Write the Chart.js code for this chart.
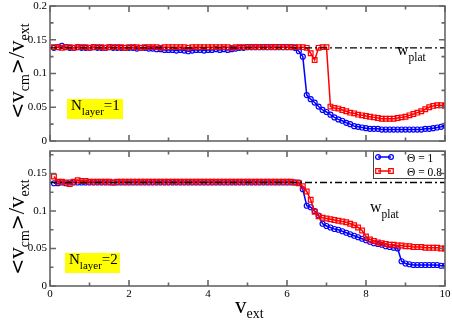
<!DOCTYPE html>
<html>
<head>
<meta charset="utf-8">
<script src="https://cdn.jsdelivr.net/npm/chart.js@4.4.0/dist/chart.umd.min.js"></script>
<style>
  html, body { margin:0; padding:0; background:#fff; }
  #wrap { position:relative; width:452px; height:320px; overflow:hidden;
          font-family:"Liberation Serif", "Times New Roman", serif; color:#000; }
  canvas { position:absolute; left:0; }
  #topChart { top:0; }
  #botChart { top:148px; }
  .lbl { position:absolute; white-space:nowrap; line-height:1; }
  .sub { position:relative; }
  .sym { font-family:"DejaVu Sans", sans-serif; font-size:19px; }
  .ytitle { position:absolute; white-space:nowrap; line-height:1; font-size:23px;
            transform:translate(-50%,-50%) rotate(-90deg); }
  .ybox { position:absolute; background:#ffff00; }
</style>
</head>
<body>
<div id="wrap">
  <canvas id="topChart" width="452" height="148"></canvas>
  <canvas id="botChart" width="452" height="172"></canvas>

  <!-- axis titles -->
  <div class="ytitle" style="left:16px; top:71px;"><span class="sym">&lt;</span>v<span class="sub" style="font-size:14px; top:5px;">cm</span><span class="sym">&gt;</span>/v<span class="sub" style="font-size:14px; top:5px;">ext</span></div>
  <div class="ytitle" style="left:16px; top:227px;"><span class="sym">&lt;</span>v<span class="sub" style="font-size:14px; top:5px;">cm</span><span class="sym">&gt;</span>/v<span class="sub" style="font-size:14px; top:5px;">ext</span></div>
  <div class="lbl" style="left:235px; top:294px; font-size:23px;">v<span class="sub" style="font-size:14px; top:5px;">ext</span></div>

  <!-- panel labels -->
  <div class="ybox" style="left:67px; top:99px; width:56px; height:20px;"></div>
  <div class="lbl" style="left:71px; top:98px; font-size:15px;">N<span class="sub" style="font-size:11px; top:5px;">layer</span>=1</div>
  <div class="ybox" style="left:65px; top:253px; width:55px; height:20px;"></div>
  <div class="lbl" style="left:69px; top:252px; font-size:15px;">N<span class="sub" style="font-size:11px; top:5px;">layer</span>=2</div>

  <div class="lbl" style="left:397px; top:42px; font-size:16px;">w<span class="sub" style="font-size:11.5px; top:6px;">plat</span></div>
  <div class="lbl" style="left:370px; top:199px; font-size:16px;">w<span class="sub" style="font-size:11.5px; top:6px;">plat</span></div>
</div>

<script>
// v_ext values (x)
const vExt = [
  0.1, 0.2, 0.3, 0.4, 0.5, 0.6, 0.7, 0.8, 0.9, 1.0,
  1.1, 1.2, 1.3, 1.4, 1.5, 1.6, 1.7, 1.8, 1.9, 2.0,
  2.1, 2.2, 2.3, 2.4, 2.5, 2.6, 2.7, 2.8, 2.9, 3.0,
  3.1, 3.2, 3.3, 3.4, 3.5, 3.6, 3.7, 3.8, 3.9, 4.0,
  4.1, 4.2, 4.3, 4.4, 4.5, 4.6, 4.7, 4.8, 4.9, 5.0,
  5.1, 5.2, 5.3, 5.4, 5.5, 5.6, 5.7, 5.8, 5.9, 6.0,
  6.1, 6.2, 6.3, 6.4, 6.5, 6.6, 6.7, 6.8, 6.9, 7.0,
  7.1, 7.2, 7.3, 7.4, 7.5, 7.6, 7.7, 7.8, 7.9, 8.0,
  8.1, 8.2, 8.3, 8.4, 8.5, 8.6, 8.7, 8.8, 8.9, 9.0,
  9.1, 9.2, 9.3, 9.4, 9.5, 9.6, 9.7, 9.8, 9.9, 10.0
];

// N_layer = 1
const theta1Layer1 = [
  0.138, 0.139, 0.141, 0.139, 0.138, 0.138, 0.139, 0.138, 0.138, 0.138,
  0.139, 0.138, 0.138, 0.138, 0.139, 0.138, 0.138, 0.138, 0.138, 0.138,
  0.138, 0.137, 0.138, 0.138, 0.137, 0.137, 0.136, 0.136, 0.135, 0.135,
  0.135, 0.134, 0.135, 0.134, 0.133, 0.134, 0.135, 0.135, 0.134, 0.135,
  0.135, 0.136, 0.135, 0.136, 0.135, 0.136, 0.137, 0.138, 0.138, 0.139,
  0.139, 0.139, 0.139, 0.139, 0.139, 0.139, 0.139, 0.139, 0.139, 0.139,
  0.139, 0.138, 0.133, 0.125, 0.068, 0.062, 0.057, 0.051, 0.046, 0.043,
  0.039, 0.035, 0.032, 0.030, 0.027, 0.025, 0.022, 0.021, 0.020, 0.019,
  0.018, 0.018, 0.018, 0.017, 0.017, 0.017, 0.017, 0.017, 0.017, 0.017,
  0.017, 0.017, 0.017, 0.017, 0.018, 0.018, 0.019, 0.020, 0.021, 0.023
];
const theta08Layer1 = [
  0.139, 0.139, 0.138, 0.139, 0.139, 0.138, 0.139, 0.139, 0.139, 0.138,
  0.139, 0.139, 0.139, 0.138, 0.139, 0.139, 0.139, 0.139, 0.138, 0.139,
  0.139, 0.139, 0.138, 0.139, 0.139, 0.139, 0.139, 0.138, 0.139, 0.139,
  0.139, 0.139, 0.139, 0.139, 0.138, 0.139, 0.139, 0.139, 0.139, 0.139,
  0.139, 0.139, 0.139, 0.139, 0.139, 0.138, 0.139, 0.139, 0.139, 0.139,
  0.139, 0.139, 0.139, 0.139, 0.139, 0.139, 0.139, 0.139, 0.139, 0.139,
  0.139, 0.139, 0.139, 0.139, 0.138, 0.130, 0.120, 0.138, 0.139, 0.139,
  0.051, 0.049, 0.048, 0.046, 0.044, 0.042, 0.041, 0.039, 0.038, 0.037,
  0.036, 0.035, 0.034, 0.033, 0.033, 0.033, 0.033, 0.034, 0.035, 0.036,
  0.038, 0.040, 0.042, 0.044, 0.047, 0.050, 0.052, 0.053, 0.053, 0.052
];

// N_layer = 2
const theta1Layer2 = [
  0.137, 0.137, 0.138, 0.137, 0.138, 0.138, 0.138, 0.138, 0.138, 0.138,
  0.138, 0.138, 0.138, 0.138, 0.138, 0.138, 0.138, 0.138, 0.138, 0.138,
  0.138, 0.138, 0.138, 0.138, 0.138, 0.138, 0.138, 0.138, 0.138, 0.138,
  0.138, 0.138, 0.138, 0.138, 0.138, 0.138, 0.138, 0.138, 0.138, 0.138,
  0.138, 0.138, 0.138, 0.138, 0.138, 0.138, 0.138, 0.138, 0.138, 0.138,
  0.138, 0.138, 0.138, 0.138, 0.138, 0.138, 0.138, 0.138, 0.138, 0.138,
  0.138, 0.138, 0.138, 0.129, 0.107, 0.105, 0.100, 0.094, 0.083, 0.080,
  0.078, 0.076, 0.075, 0.073, 0.071, 0.069, 0.067, 0.065, 0.063, 0.061,
  0.059, 0.057, 0.056, 0.055, 0.053, 0.052, 0.051, 0.050, 0.033, 0.030,
  0.029, 0.028, 0.028, 0.028, 0.028, 0.028, 0.028, 0.028, 0.027, 0.027
];
const theta08Layer2 = [
  0.146, 0.139, 0.139, 0.138, 0.136, 0.139, 0.141, 0.140, 0.140, 0.139,
  0.139, 0.139, 0.139, 0.139, 0.139, 0.138, 0.139, 0.139, 0.139, 0.139,
  0.139, 0.139, 0.139, 0.139, 0.139, 0.139, 0.139, 0.139, 0.139, 0.139,
  0.139, 0.139, 0.139, 0.139, 0.139, 0.139, 0.139, 0.139, 0.139, 0.139,
  0.139, 0.139, 0.139, 0.139, 0.139, 0.139, 0.139, 0.139, 0.139, 0.139,
  0.139, 0.139, 0.139, 0.139, 0.139, 0.139, 0.139, 0.139, 0.139, 0.139,
  0.139, 0.138, 0.137, 0.133, 0.126, 0.115, 0.099, 0.093, 0.091, 0.090,
  0.089, 0.088, 0.087, 0.086, 0.085, 0.083, 0.081, 0.078, 0.074, 0.066,
  0.062, 0.060, 0.058, 0.057, 0.056, 0.055, 0.055, 0.054, 0.054, 0.053,
  0.053, 0.052, 0.052, 0.052, 0.051, 0.051, 0.051, 0.051, 0.050, 0.050
];

const wPlat = 0.138;
const plateauX = [0, 10];
const seriesLabels = ['\u0398 = 1', '\u0398 = 0.8'];

const xTicks = [0, 2, 4, 6, 8, 10];
const xMinor = [1, 3, 5, 7, 9];
const yTicksTop = [0, 0.05, 0.1, 0.15, 0.2];
const yTicksBot = [0, 0.05, 0.1, 0.15];
const yMinor = [0.025, 0.075, 0.125, 0.175];

const BLUE = '#0000ff';
const RED = '#ff0000';
const AXIS = '#666666';
const FONT = '"Liberation Serif", "Times New Roman", serif';

// frame with inward ticks on all four sides (grace style)
const framePlugin = {
  id: 'frame',
  afterDraw(chart, args, o) {
    const { ctx, chartArea: a, scales: { x, y } } = chart;
    ctx.save();
    ctx.strokeStyle = AXIS;
    ctx.lineWidth = 1.6;
    ctx.beginPath();
    const mark = (vals, len, vertical) => {
      vals.forEach(v => {
        if (vertical) {
          const px = x.getPixelForValue(v);
          ctx.moveTo(px, a.bottom); ctx.lineTo(px, a.bottom - len);
          ctx.moveTo(px, a.top); ctx.lineTo(px, a.top + len);
        } else {
          const py = y.getPixelForValue(v);
          ctx.moveTo(a.left, py); ctx.lineTo(a.left + len, py);
          ctx.moveTo(a.right, py); ctx.lineTo(a.right - len, py);
        }
      });
    };
    mark(xTicks, 6, true);
    mark(xMinor, 3.5, true);
    mark(o.yMajor, 6, false);
    mark(o.yMinor, 3.5, false);
    ctx.stroke();
    ctx.strokeRect(a.left, a.top, a.right - a.left, a.bottom - a.top);
    ctx.restore();
  }
};

const legendPlugin = {
  id: 'thetaLegend',
  afterDatasetsDraw(chart, args, o) {
    if (!o.show) return;
    const ctx = chart.ctx;
    const a = chart.chartArea;
    const bx = 373, by = a.top, bw = a.right - 373, bh = 27;
    ctx.save();
    ctx.fillStyle = '#fff';
    ctx.fillRect(bx, by, bw, bh);
    ctx.strokeStyle = '#444';
    ctx.lineWidth = 1;
    ctx.strokeRect(bx + 0.5, by + 0.5, bw, bh);
    const styles = [
      { color: BLUE, shape: 'circle' },
      { color: RED, shape: 'rect' }
    ];
    seriesLabels.forEach((label, i) => {
      const yy = by + 6 + i * 14;
      const st = styles[i];
      ctx.strokeStyle = st.color;
      ctx.lineWidth = 1.5;
      ctx.beginPath();
      ctx.moveTo(bx + 5, yy); ctx.lineTo(bx + 18, yy);
      ctx.stroke();
      [bx + 5, bx + 18].forEach(px => {
        ctx.beginPath();
        if (st.shape === 'circle') ctx.arc(px, yy, 2.4, 0, Math.PI * 2);
        else ctx.rect(px - 2.3, yy - 2.3, 4.6, 4.6);
        ctx.lineWidth = 1.2;
        ctx.stroke();
      });
      ctx.fillStyle = '#000';
      ctx.font = '11.5px ' + FONT;
      ctx.textBaseline = 'alphabetic';
      ctx.fillText(label, bx + 34, yy + 4.5);
    });
    ctx.restore();
  }
};

function toPoints(ys) {
  return vExt.map((x, i) => ({ x: x, y: ys[i] }));
}

function noPad(s) {
  s.paddingTop = 0; s.paddingBottom = 0; s.paddingLeft = 0; s.paddingRight = 0;
}

function makePanel(id, blue, red, yMax, yTicks, pad, xHeight, showXLabels, showLegend) {
  const ctx = document.getElementById(id).getContext('2d');
  return new Chart(ctx, {
    type: 'line',
    data: {
      datasets: [
        {
          label: 'w_plat',
          data: plateauX.map(x => ({ x: x, y: wPlat })),
          borderColor: '#000',
          borderWidth: 1.4,
          borderDash: [7, 3, 2, 3],
          pointRadius: 0,
          order: 0
        },
        {
          label: seriesLabels[1],
          data: toPoints(red),
          borderColor: RED,
          borderWidth: 1.5,
          pointStyle: 'rect',
          pointRadius: 3.3,
          pointBorderWidth: 1.2,
          pointBorderColor: RED,
          pointBackgroundColor: 'rgba(0,0,0,0)',
          order: 1
        },
        {
          label: seriesLabels[0],
          data: toPoints(blue),
          borderColor: BLUE,
          borderWidth: 1.5,
          pointStyle: 'circle',
          pointRadius: 2.5,
          pointBorderWidth: 1.2,
          pointBorderColor: BLUE,
          pointBackgroundColor: 'rgba(0,0,0,0)',
          order: 2
        }
      ]
    },
    options: {
      responsive: false,
      animation: false,
      devicePixelRatio: 1,
      layout: { padding: pad, autoPadding: false },
      scales: {
        x: {
          type: 'linear',
          min: 0, max: 10,
          grid: { display: false, drawTicks: false },
          border: { display: false },
          ticks: {
            display: showXLabels,
            padding: 2,
            autoSkip: false,
            maxRotation: 0,
            color: '#000',
            font: { family: FONT, size: 11 },
            callback: v => String(v)
          },
          afterBuildTicks: s => { s.ticks = xTicks.map(v => ({ value: v })); },
          afterFit: s => { s.height = xHeight; noPad(s); }
        },
        y: {
          min: 0, max: yMax,
          grid: { display: false, drawTicks: false },
          border: { display: false },
          ticks: {
            padding: 3,
            autoSkip: false,
            color: '#000',
            font: { family: FONT, size: 11 },
            callback: v => String(v)
          },
          afterBuildTicks: s => { s.ticks = yTicks.map(v => ({ value: v })); },
          afterFit: s => { s.width = 50; noPad(s); }
        }
      },
      plugins: {
        legend: { display: false },
        tooltip: { enabled: false },
        frame: { yMajor: yTicks, yMinor: yMinor.filter(v => v < yMax) },
        thetaLegend: { show: showLegend }
      }
    },
    plugins: [framePlugin, legendPlugin]
  });
}

makePanel('topChart', theta1Layer1, theta08Layer1, 0.2, yTicksTop,
  { left: 0, right: 7, top: 6, bottom: 0 }, 7, false, false);
makePanel('botChart', theta1Layer2, theta08Layer2, 0.18, yTicksBot,
  { left: 0, right: 7, top: 3, bottom: 0 }, 34, true, true);
</script>
</body>
</html>
